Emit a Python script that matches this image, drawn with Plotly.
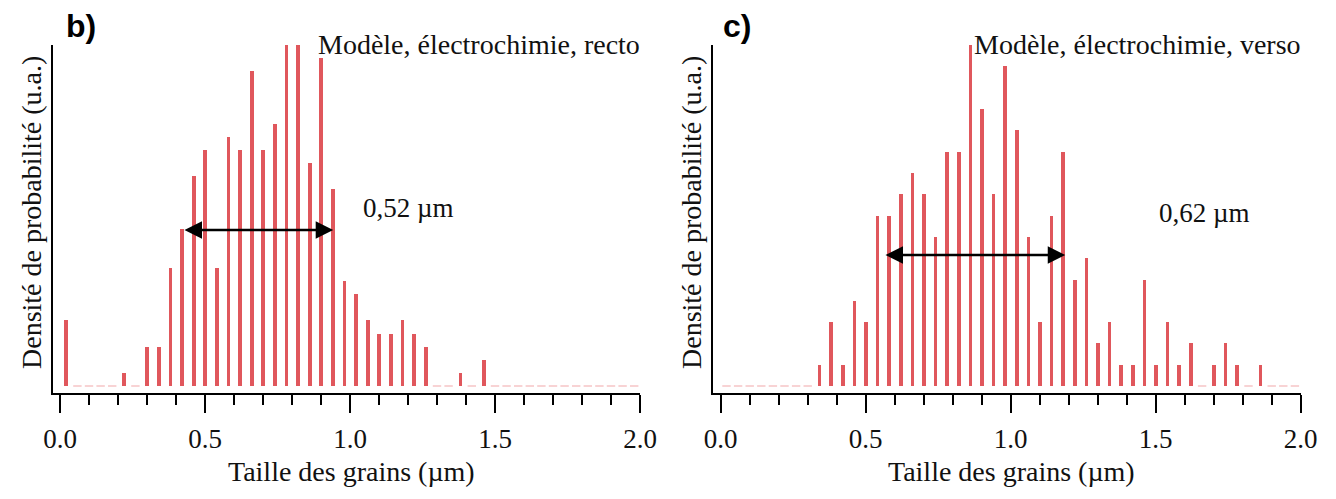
import plotly.graph_objects as go

# Bin centres (µm)
bin_centres = [0.02, 0.06, 0.10, 0.14, 0.18, 0.22, 0.26, 0.30, 0.34, 0.38,
               0.42, 0.46, 0.50, 0.54, 0.58, 0.62, 0.66, 0.70, 0.74, 0.78,
               0.82, 0.86, 0.90, 0.94, 0.98, 1.02, 1.06, 1.10, 1.14, 1.18,
               1.22, 1.26, 1.30, 1.34, 1.38, 1.42, 1.46, 1.50, 1.54, 1.58,
               1.62, 1.66, 1.70, 1.74, 1.78, 1.82, 1.86, 1.90, 1.94, 1.98]

# b) Modèle, électrochimie, recto
counts_recto = [5, 0, 0, 0, 0, 1, 0, 3, 3, 9,
                12, 16, 18, 9, 19, 18, 24, 18, 20, 26,
                26, 17, 25, 15, 8, 7, 5, 4, 4, 5,
                4, 3, 0, 0, 1, 0, 2, 0, 0, 0,
                0, 0, 0, 0, 0, 0, 0, 0, 0, 0]

# c) Modèle, électrochimie, verso
counts_verso = [0, 0, 0, 0, 0, 0, 0, 0, 1, 3,
                1, 4, 3, 8, 8, 9, 10, 9, 7, 11,
                11, 16, 13, 9, 15, 12, 7, 3, 8, 11,
                5, 6, 2, 3, 1, 1, 5, 1, 3, 1,
                2, 0, 1, 2, 1, 0, 1, 0, 0, 0]

panel_letters = ["b)", "c)"]
panel_titles = ["Modèle, électrochimie, recto", "Modèle, électrochimie, verso"]
fwhm_labels = ["0,52 µm", "0,62 µm"]
fwhm_arrows = [(0.424, 0.942, 11.9), (0.563, 1.188, 6.15)]
fwhm_label_pos = [(1.20, 13.6), (1.667, 8.1)]
x_title = "Taille des grains (µm)"
y_title = "Densité de probabilité (u.a.)"
tick_values = [0.0, 0.5, 1.0, 1.5, 2.0]

BAR = "#e0575c"
ZERO = "#f6c4c6"
SERIF = "Liberation Serif"
TXT = "#111111"
W, H = 1336, 499
OFF = 8  # page body margin


def px(x):
    return (x - OFF) / W


def py(y):
    return (H - (y - OFF)) / H


fig = go.Figure()
series = [counts_recto, counts_verso]
for i, counts in enumerate(series):
    xa = "x" if i == 0 else "x2"
    ya = "y" if i == 0 else "y2"
    fig.add_trace(go.Bar(x=bin_centres, y=counts, width=0.013,
                         marker=dict(color=BAR, line=dict(width=0)),
                         xaxis=xa, yaxis=ya, showlegend=False))
    zx = [b for b, c in zip(bin_centres, counts) if c == 0]
    fig.add_trace(go.Scatter(x=zx, y=[0] * len(zx), mode="markers",
                             marker=dict(symbol="line-ew", size=6,
                                         line=dict(color=ZERO, width=1.5)),
                             xaxis=xa, yaxis=ya, showlegend=False,
                             hoverinfo="skip"))

ydom = [py(392.7), py(45)]
xdoms = [[px(52.7), px(640)], [px(712.7), px(1300.7)]]
xranges = [[-0.0252, 2.0], [-0.0276, 2.0]]
yranges = [[-0.51, 26], [-0.31, 16]]

for i in range(2):
    sx = "" if i == 0 else "2"
    fig.update_layout(**{
        "xaxis" + sx: dict(domain=xdoms[i], range=xranges[i], anchor="y" + sx,
                           automargin=False,
                           showline=True, linewidth=2, linecolor="black",
                           showgrid=False, zeroline=False,
                           ticks="outside", ticklen=18, tickwidth=2, tickcolor="black",
                           tickvals=tick_values, tickformat=".1f",
                           ticklabelstandoff=3,
                           tickfont=dict(family=SERIF, size=27, color=TXT),
                           minor=dict(dtick=0.1, tick0=0, ticks="outside", ticklen=10,
                                      tickwidth=2, tickcolor="black", showgrid=False)),
        "yaxis" + sx: dict(domain=ydom, range=yranges[i], anchor="x" + sx,
                           automargin=False,
                           showline=True, linewidth=2, linecolor="black",
                           showgrid=False, zeroline=False, showticklabels=False,
                           ticks=""),
    })

annotations = []
for i in range(2):
    sx = "" if i == 0 else "2"
    # panel letter
    annotations.append(dict(text="<b>" + panel_letters[i] + "</b>", xref="paper", yref="paper",
                            x=px(64 if i == 0 else 721), y=py(26),
                            xanchor="left", yanchor="middle", showarrow=False,
                            font=dict(family="Liberation Sans", size=32, color="black")))
    # panel title
    annotations.append(dict(text=panel_titles[i], xref="x" + sx, yref="paper",
                            x=2.0, y=py(45), xanchor="right", yanchor="middle",
                            showarrow=False, xshift=2,
                            font=dict(family=SERIF, size=28, color=TXT)))
    # FWHM arrow
    xa, xb, yy = fwhm_arrows[i]
    annotations.append(dict(text="", x=xb, y=yy, ax=xa, ay=yy,
                            xref="x" + sx, yref="y" + sx, axref="x" + sx, ayref="y" + sx,
                            showarrow=True, arrowhead=2, startarrowhead=2,
                            arrowside="end+start", arrowsize=1.4, startarrowsize=1.4,
                            arrowwidth=2.5, arrowcolor="black"))
    lx, ly = fwhm_label_pos[i]
    annotations.append(dict(text=fwhm_labels[i], x=lx, y=ly, xref="x" + sx, yref="y" + sx,
                            showarrow=False, xanchor="center", yanchor="middle",
                            font=dict(family=SERIF, size=27, color=TXT)))
    # axis titles
    annotations.append(dict(text=x_title, xref="paper", yref="paper",
                            x=px(351 + 660 * i), y=py(471),
                            xanchor="center", yanchor="middle", showarrow=False,
                            font=dict(family=SERIF, size=28, color=TXT)))
    annotations.append(dict(text=y_title, xref="paper", yref="paper",
                            x=px(32 + 660 * i), y=py(213), textangle=-90,
                            xanchor="center", yanchor="middle", showarrow=False,
                            font=dict(family=SERIF, size=28, color=TXT)))

fig.update_layout(width=W, height=H, margin=dict(l=0, r=0, t=0, b=0, autoexpand=False),
                  plot_bgcolor="white", paper_bgcolor="white",
                  bargap=0, annotations=annotations, showlegend=False)

fig.write_html("out.html")
